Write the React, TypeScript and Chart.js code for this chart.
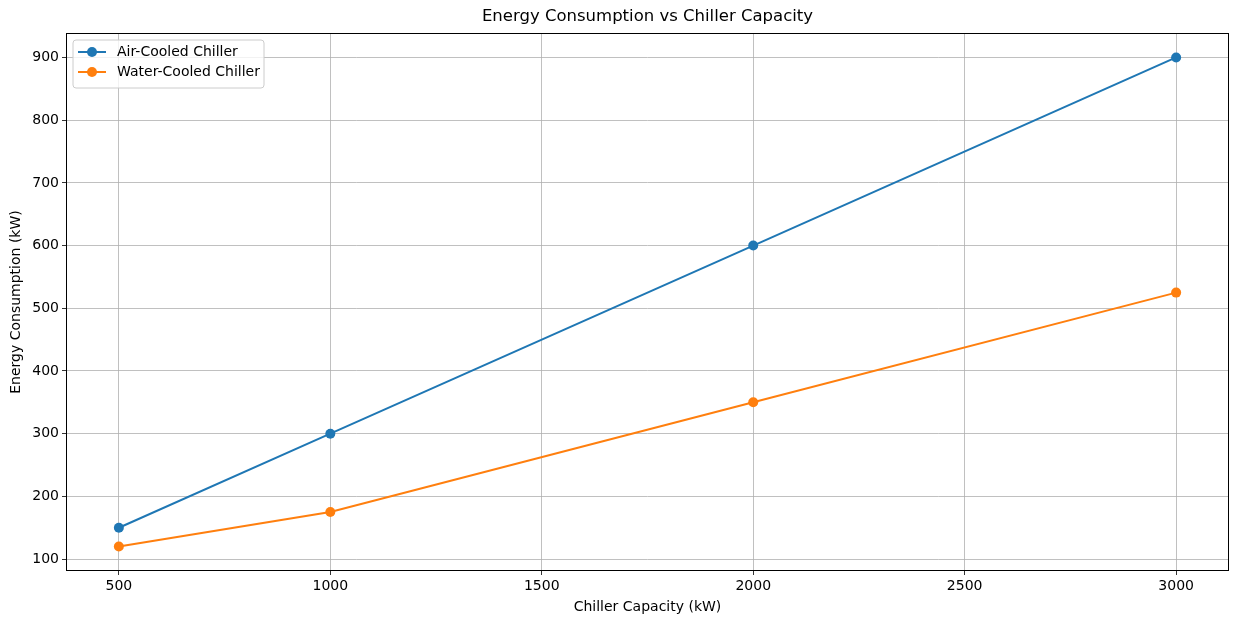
import React, { useEffect, useRef } from "react";
import { Chart, registerables } from "chart.js";

Chart.register(...registerables);

const capacities = [500, 1000, 2000, 3000];
const airCooled = [150, 300, 600, 900];
const waterCooled = [120, 175, 350, 525];
const xTicks = [500, 1000, 1500, 2000, 2500, 3000];
const yTicks = [100, 200, 300, 400, 500, 600, 700, 800, 900];
const seriesNames = ["Air-Cooled Chiller", "Water-Cooled Chiller"];
const seriesColors = ["#1f77b4", "#ff7f0e"];
const titleText = "Energy Consumption vs Chiller Capacity";
const xTitle = "Chiller Capacity (kW)";
const yTitle = "Energy Consumption (kW)";

const FONT = "DejaVu Sans";

const overlayPlugin = {
  id: "overlay",
  afterDraw(chart: any) {
    const ctx = chart.ctx;
    const a = chart.chartArea;
    ctx.save();
    // frame
    ctx.strokeStyle = "#000";
    ctx.lineWidth = 1;
    ctx.strokeRect(Math.round(a.left) + 0.5, Math.round(a.top) + 0.5, Math.round(a.right - a.left) - 1, Math.round(a.bottom - a.top) - 1);
    // title
    ctx.fillStyle = "#000";
    ctx.textAlign = "center";
    ctx.textBaseline = "middle";
    ctx.font = `16.5px "${FONT}"`;
    ctx.fillText(titleText, (a.left + a.right) / 2, 17);
    ctx.font = `14px "${FONT}"`;
    ctx.fillText(xTitle, (a.left + a.right) / 2, 607);
    ctx.save();
    ctx.translate(16, (a.top + a.bottom) / 2);
    ctx.rotate(-Math.PI / 2);
    ctx.fillText(yTitle, 0, 0);
    ctx.restore();
    // legend
    const lx = a.left + 7, ly = a.top + 7, lw = 191, lh = 48, r = 3;
    ctx.beginPath();
    ctx.moveTo(lx + r, ly);
    ctx.lineTo(lx + lw - r, ly);
    ctx.quadraticCurveTo(lx + lw, ly, lx + lw, ly + r);
    ctx.lineTo(lx + lw, ly + lh - r);
    ctx.quadraticCurveTo(lx + lw, ly + lh, lx + lw - r, ly + lh);
    ctx.lineTo(lx + r, ly + lh);
    ctx.quadraticCurveTo(lx, ly + lh, lx, ly + lh - r);
    ctx.lineTo(lx, ly + r);
    ctx.quadraticCurveTo(lx, ly, lx + r, ly);
    ctx.closePath();
    ctx.fillStyle = "rgba(255,255,255,0.8)";
    ctx.fill();
    ctx.strokeStyle = "#cccccc";
    ctx.stroke();
    seriesNames.forEach((name, i) => {
      const y = ly + 12 + i * 20;
      ctx.strokeStyle = seriesColors[i];
      ctx.lineWidth = 2;
      ctx.beginPath();
      ctx.moveTo(lx + 5, y);
      ctx.lineTo(lx + 33, y);
      ctx.stroke();
      ctx.fillStyle = seriesColors[i];
      ctx.beginPath();
      ctx.arc(lx + 19, y, 5, 0, Math.PI * 2);
      ctx.fill();
      ctx.fillStyle = "#000";
      ctx.textAlign = "left";
      ctx.font = `14px "${FONT}"`;
      ctx.fillText(name, lx + 44, y);
    });
    ctx.restore();
  },
};

export default function App() {
  const ref = useRef<HTMLCanvasElement>(null);
  useEffect(() => {
    document.body.style.margin = "0";
    const chart = new Chart(ref.current!, {
      type: "line",
      data: {
        datasets: [airCooled, waterCooled].map((vals, i) => ({
          label: seriesNames[i],
          data: capacities.map((c, j) => ({ x: c, y: vals[j] })),
          borderColor: seriesColors[i],
          backgroundColor: seriesColors[i],
          borderWidth: 2,
          pointRadius: 5,
          pointHoverRadius: 5,
          pointBorderWidth: 0,
          tension: 0,
          fill: false,
        })),
      },
      options: {
        animation: false,
        responsive: false,
        devicePixelRatio: 1,
        layout: { padding: { top: 33, right: 9, left: 0, bottom: 0 } },
        plugins: { legend: { display: false }, title: { display: false }, tooltip: { enabled: false } },
        scales: {
          x: {
            type: "linear",
            min: 375,
            max: 3125,
            afterBuildTicks: (s: any) => { s.ticks = xTicks.map((v) => ({ value: v })); },
            afterFit: (s: any) => { s.height = 53; },
            grid: { color: "#b0b0b0", lineWidth: 0.8, tickColor: "#000", tickLength: 4, drawTicks: true },
            border: { display: false },
            ticks: { color: "#000", font: { family: FONT, size: 14 }, padding: 3, maxRotation: 0, callback: (v: any) => String(v) },
          },
          y: {
            type: "linear",
            min: 81,
            max: 939,
            afterBuildTicks: (s: any) => { s.ticks = yTicks.map((v) => ({ value: v })); },
            afterFit: (s: any) => { s.width = 66; },
            grid: { color: "#b0b0b0", lineWidth: 0.8, tickColor: "#000", tickLength: 4, drawTicks: true },
            border: { display: false },
            ticks: { color: "#000", font: { family: FONT, size: 14 }, padding: 3, callback: (v: any) => String(v) },
          },
        },
      },
      plugins: [overlayPlugin],
    } as any);
    return () => chart.destroy();
  }, []);
  return (
    <div style={{ width: 1238, height: 624, background: "#fff" }}>
      <canvas ref={ref} width={1238} height={624} style={{ display: "block" }} />
    </div>
  );
}
